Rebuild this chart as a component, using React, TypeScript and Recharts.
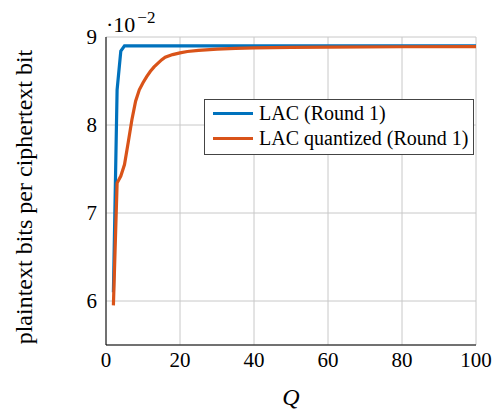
import { CartesianGrid, Label, Line, LineChart, XAxis, YAxis } from 'recharts';

// Values are in units of 10^-2 (plaintext bits per ciphertext bit).
const LAC_Q = [2, 3, 4, 5, 10, 20, 40, 60, 80, 100];
const LAC_VALUES = [6.1, 8.4, 8.84, 8.9, 8.9, 8.9, 8.9, 8.9, 8.9, 8.9];

const LAC_QUANT_Q = [2, 3, 4, 5, 6, 7, 8, 9, 10, 11, 12, 13, 14, 15, 16, 18, 20, 22, 25, 30, 35, 40, 50, 60, 80, 100];
const LAC_QUANT_VALUES = [
  5.95, 7.34, 7.42, 7.55, 7.8, 8.06, 8.27, 8.4, 8.48, 8.55, 8.61, 8.66, 8.7, 8.74, 8.77, 8.8, 8.82, 8.835,
  8.848, 8.862, 8.87, 8.876, 8.882, 8.886, 8.889, 8.89,
];

const X_TICKS = [0, 20, 40, 60, 80, 100];
const Y_TICKS = [6, 7, 8, 9];

const SERIES = [
  { name: 'LAC (Round 1)', color: '#0072BD' },
  { name: 'LAC quantized (Round 1)', color: '#D95319' },
];

const FONT = 'Liberation Serif';

const lac = LAC_Q.map((q, i) => ({ q, v: LAC_VALUES[i] }));
const lacQuant = LAC_QUANT_Q.map((q, i) => ({ q, v: LAC_QUANT_VALUES[i] }));

export default function App() {
  return (
    <div style={{ position: 'absolute', left: 0, top: 0, width: 500, height: 409, background: '#fff', fontFamily: FONT }}>
      <LineChart width={500} height={409} margin={{ top: 37, right: 24, bottom: 34, left: 66 }}>
        <CartesianGrid stroke="#c8c8c8" strokeWidth={1} horizontal vertical />
        <XAxis
          type="number"
          dataKey="q"
          domain={[0, 100]}
          ticks={X_TICKS}
          allowDataOverflow
          height={30}
          stroke="#000"
          tickLine={false}
          tickSize={0}
          tickMargin={7}
          tick={{ fill: '#000', fontSize: 21, fontFamily: FONT }}
        >
          <Label
            content={({ viewBox }: any) => (
              <text
                x={viewBox.x + viewBox.width / 2}
                y={viewBox.y + 60}
                textAnchor="middle"
                fontSize={24}
                fontStyle="italic"
                fontFamily={FONT}
                fill="#000"
              >
                Q
              </text>
            )}
          />
        </XAxis>
        <YAxis
          type="number"
          domain={[5.5, 9]}
          ticks={Y_TICKS}
          allowDataOverflow
          width={40}
          stroke="#000"
          tickLine={false}
          tickSize={0}
          tickMargin={9}
          tick={{ fill: '#000', fontSize: 21, fontFamily: FONT }}
        >
          <Label
            content={({ viewBox }: any) => {
              const cx = 24;
              const cy = viewBox.y + viewBox.height / 2 + 6;
              return (
                <text
                  x={cx}
                  y={cy}
                  transform={`rotate(-90 ${cx} ${cy})`}
                  textAnchor="middle"
                  dominantBaseline="central"
                  fontSize={24}
                  fontFamily={FONT}
                  fill="#000"
                >
                  plaintext bits per ciphertext bit
                </text>
              );
            }}
          />
        </YAxis>
        <Line
          data={lac}
          dataKey="v"
          type="linear"
          stroke={SERIES[0].color}
          strokeWidth={3.2}
          dot={false}
          isAnimationActive={false}
        />
        <Line
          data={lacQuant}
          dataKey="v"
          type="linear"
          stroke={SERIES[1].color}
          strokeWidth={3.2}
          dot={false}
          isAnimationActive={false}
        />
      </LineChart>

      <div style={{ position: 'absolute', left: 106, top: 9, fontSize: 22, color: '#000', lineHeight: 1 }}>
        <span>·10</span>
        <sup style={{ fontSize: 17, marginLeft: 2, verticalAlign: 9 }}>−2</sup>
      </div>

      <div
        style={{
          position: 'absolute',
          left: 204,
          top: 99,
          width: 270,
          height: 56,
          boxSizing: 'border-box',
          border: '1px solid #444',
          background: '#fff',
          paddingLeft: 8,
          paddingTop: 1,
        }}
      >
        {SERIES.map((s) => (
          <div key={s.name} style={{ display: 'flex', alignItems: 'center', height: 25, fontSize: 20, color: '#000', whiteSpace: 'nowrap' }}>
            <span style={{ display: 'inline-block', width: 40, height: 3, background: s.color, marginRight: 6 }} />
            <span>{s.name}</span>
          </div>
        ))}
      </div>
    </div>
  );
}
